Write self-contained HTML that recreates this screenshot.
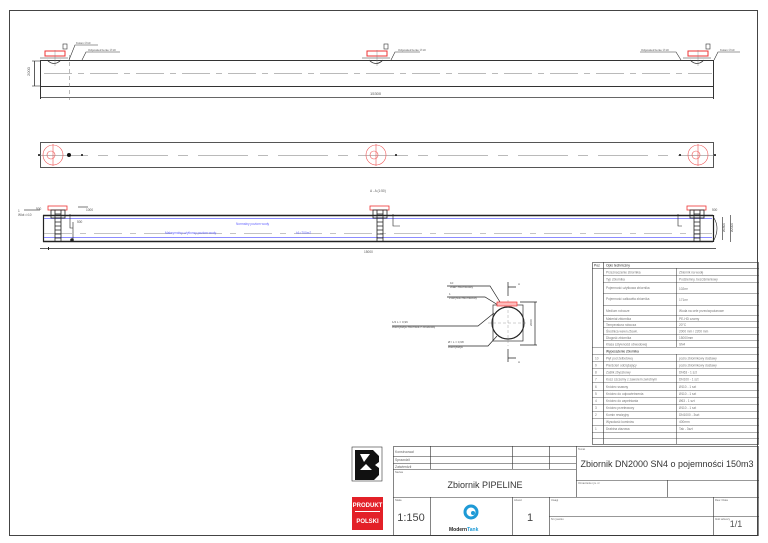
<!DOCTYPE html>
<html><head><meta charset="utf-8"><style>
html,body{margin:0;padding:0;background:#fff}
svg{display:block}
text{font-family:"Liberation Sans",sans-serif}
</style></head><body>
<svg width="768" height="543" viewBox="0 0 768 543" xmlns="http://www.w3.org/2000/svg">
<rect x="0" y="0" width="768" height="543" fill="#fff"/>
<!-- frame -->
<rect x="9.5" y="10.5" width="748" height="525" fill="none" stroke="#444" stroke-width="1"/>

<!-- TOP VIEW -->
<g stroke="#333" fill="none">
<rect x="40.5" y="60.5" width="673" height="26" stroke-width="1"/>
<line x1="40" y1="97.5" x2="714" y2="97.5" stroke-width="0.8"/>
<line x1="40.5" y1="87" x2="40.5" y2="99"/>
<line x1="713.5" y1="87" x2="713.5" y2="99"/>
<line x1="34.5" y1="61" x2="34.5" y2="86" stroke-width="0.8"/>
<line x1="32" y1="61" x2="40" y2="61" stroke-width="0.6"/>
<line x1="32" y1="86" x2="40" y2="86" stroke-width="0.6"/>
<line x1="44" y1="73.5" x2="712" y2="73.5" stroke="#777" stroke-width="0.6" stroke-dasharray="28,6,6,6"/>
<line x1="69.5" y1="55" x2="69.5" y2="100" stroke="#777" stroke-width="0.5" stroke-dasharray="4,3"/>
</g>
<g font-size="4" fill="#555">
<text x="30" y="76" transform="rotate(-90 30 76)">2000</text>
<text x="370" y="95">15300</text>
</g>
<!-- top nozzles -->
<g id="tn">
<path d="M47 60 Q54 67 61 60" stroke="#333" fill="none" stroke-width="0.8"/>
<rect x="45" y="51" width="20" height="5" fill="none" stroke="#e33" stroke-width="1"/>
<line x1="40" y1="58" x2="68" y2="58" stroke="#333" stroke-width="0.6"/>
<line x1="55" y1="50" x2="55" y2="66" stroke="#777" stroke-width="0.4"/>
</g>
<use href="#tn" x="322"/>
<use href="#tn" x="643"/>
<g stroke="#333" stroke-width="0.6" fill="none">
<path d="M69 60 L75 45 L98 45"/><path d="M82 60 L86 52 L120 52"/>
<path d="M391 60 L395 52 L420 52"/>
<path d="M681 60 L676 52 L640 52"/><path d="M714 60 L718 52 L740 52"/>
<rect x="63" y="44" width="4" height="5"/><rect x="384" y="44" width="4" height="5"/><rect x="706" y="44" width="4" height="5"/>
</g>
<g font-size="3" fill="#555">
<text x="76" y="44">Kolan ∅10</text><text x="88" y="51">Odpowietrzenie ∅10</text>
<text x="398" y="51">Odpowietrzenie ∅10</text>
<text x="641" y="51">Odpowietrzenie ∅10</text><text x="720" y="51">Kolan ∅10</text>
</g>

<!-- PLAN VIEW -->
<g fill="none">
<rect x="40.5" y="142.5" width="673" height="25" stroke="#555" stroke-width="1"/>
<line x1="38" y1="155.5" x2="716" y2="155.5" stroke="#777" stroke-width="0.6" stroke-dasharray="50,10,10,10"/>
<g stroke="#e55" stroke-width="0.6">
<circle cx="53" cy="155" r="10"/><circle cx="51" cy="155" r="4"/>
<circle cx="376" cy="155" r="10"/><circle cx="374" cy="155" r="4"/>
<circle cx="698" cy="155" r="10"/><circle cx="696" cy="155" r="4"/>
<line x1="53" y1="144" x2="53" y2="166"/><line x1="376" y1="144" x2="376" y2="166"/><line x1="698" y1="144" x2="698" y2="166"/>
</g>
</g>
<g fill="#111"><circle cx="69" cy="155" r="2"/><circle cx="82" cy="155" r="1"/><circle cx="39" cy="155" r="1"/><circle cx="396" cy="155" r="1"/><circle cx="680" cy="155" r="1"/><circle cx="715" cy="155" r="1"/></g>

<!-- SECTION VIEW -->
<g fill="none" stroke="#222">
<line x1="43" y1="215.5" x2="713" y2="215.5" stroke-width="1.4"/>
<line x1="43" y1="241.5" x2="713" y2="241.5" stroke-width="1.4"/>
<line x1="43.5" y1="215" x2="43.5" y2="242" stroke-width="1.2"/>
<line x1="713.5" y1="215" x2="713.5" y2="242" stroke-width="1.2"/>
<line x1="40" y1="248.5" x2="716" y2="248.5" stroke-width="0.7"/>
<line x1="44" y1="233.5" x2="712" y2="233.5" stroke="#888" stroke-width="0.6" stroke-dasharray="28,8,6,8"/>
</g>
<line x1="44" y1="218.5" x2="712" y2="218.5" stroke="#66f" stroke-width="0.8"/>
<line x1="44" y1="237.5" x2="712" y2="237.5" stroke="#66f" stroke-width="0.8"/>
<g id="lad" stroke="#222" fill="none" stroke-width="0.8">
<line x1="55" y1="210" x2="55" y2="242"/><line x1="61" y1="210" x2="61" y2="242"/>
<path d="M55 214H61M55 218H61M55 222H61M55 226H61M55 230H61M55 234H61M55 238H61"/>
<rect x="48" y="206" width="19" height="4" stroke="#e33"/>
<rect x="51" y="210" width="14" height="8"/>
</g>
<use href="#lad" x="322"/>
<use href="#lad" x="639"/>
<g stroke="#222" fill="none" stroke-width="0.6">
<path d="M70 214V228H73"/><path d="M73 222V241"/><circle cx="72" cy="240" r="1.5" fill="#222"/>
<path d="M78 207H88"/><path d="M24 210H40"/>
<path d="M393 214V226H400"/><path d="M678 214V226H682"/>
<path d="M714 218Q720 228 714 240"/>
<line x1="730.5" y1="215" x2="730.5" y2="242"/><line x1="722.5" y1="217" x2="722.5" y2="240"/>
</g>
<g fill="#222"><path d="M48 250h1v-3h-1z"/></g>
<g font-size="3.2" fill="#555">
<text x="370" y="192">A - A (1:50)</text>
<text x="18" y="212">1</text><text x="18" y="216">Wlot ∅10</text>
<text x="36" y="210">500</text><text x="86" y="211">1000</text>
<text x="77" y="223">500</text>
<text x="364" y="253">15000</text>
<text x="712" y="211">500</text>
<text x="733" y="232" transform="rotate(-90 733 232)">ø2000</text>
<text x="725" y="232" transform="rotate(-90 725 232)">ø1800</text>
</g>
<g font-size="3.2" fill="#66f">
<text x="236" y="225">Normalny poziom wody</text>
<text x="165" y="234">Maksymalny użytkowy poziom wody</text>
<text x="296" y="234">h1=700m7</text>
</g>

<!-- detail cross-section -->
<g fill="none" stroke="#222" stroke-width="0.7">
<circle cx="508" cy="323" r="16" stroke-width="1.2"/>
<rect x="493" y="305" width="30" height="36" stroke="#333"/>
<line x1="508" y1="300" x2="508" y2="346" stroke="#888" stroke-width="0.4" stroke-dasharray="3,2"/>
<line x1="488" y1="323" x2="528" y2="323" stroke="#888" stroke-width="0.4" stroke-dasharray="3,2"/>
<path d="M508 282V296M508 349V362M508 287H516M508 358H516"/>
<path d="M520 302H537M520 345H537M535 302V345"/>
<path d="M447 286H490L500 302M447 297H485L498 305M392 326H478L494 313M448 346H488L497 336"/>
</g>
<rect x="497" y="302" width="20" height="4" fill="#fbb" stroke="#e33" stroke-width="0.7"/>
<g font-size="3" fill="#555">
<text x="450" y="284">10</text><text x="450" y="288">Właz zbiornikowy</text>
<text x="449" y="295">1</text><text x="449" y="299">Pokrywa zbiornikowy</text>
<text x="392" y="323">1/2 L = 0,96</text><text x="392" y="328">Wentylacja zbiornika z obudową</text>
<text x="448" y="343">Ø / L = 0,98</text><text x="448" y="348">Wentylacja</text>
<text x="518" y="285">A</text><text x="518" y="363">A</text>
<text x="532" y="326" transform="rotate(-90 532 326)">2000</text>
</g>

<!-- TABLE -->
<g stroke="#333" stroke-width="0.6" fill="none">
<rect x="592.5" y="262.5" width="166" height="182"/>
<line x1="603.5" y1="262" x2="603.5" y2="444"/>
</g>
<g font-size="3.4" fill="#666">
<text x="594" y="266.5" fill="#222">Poz</text><text x="606" y="266.5" fill="#222">Opis techniczny</text>
</g>
<g id="rows" stroke="#333" stroke-width="0.5">
<line x1="592" y1="268.5" x2="759" y2="268.5"/>
<line x1="676.5" y1="268" x2="676.5" y2="347"/>
<line x1="676.5" y1="354" x2="676.5" y2="444"/>
</g>
<g stroke="#333" stroke-width="0.4">
<line x1="603" y1="275.5" x2="759" y2="275.5"/>
<line x1="603" y1="282.5" x2="759" y2="282.5"/>
<line x1="603" y1="293.5" x2="759" y2="293.5"/>
<line x1="603" y1="305.5" x2="759" y2="305.5"/>
<line x1="603" y1="315.5" x2="759" y2="315.5"/>
<line x1="603" y1="321.5" x2="759" y2="321.5"/>
<line x1="603" y1="327.5" x2="759" y2="327.5"/>
<line x1="603" y1="334.5" x2="759" y2="334.5"/>
<line x1="603" y1="340.5" x2="759" y2="340.5"/>
<line x1="592" y1="347.5" x2="759" y2="347.5"/>
<line x1="592" y1="354.5" x2="759" y2="354.5"/>
<line x1="592" y1="361.5" x2="759" y2="361.5"/>
<line x1="592" y1="368.5" x2="759" y2="368.5"/>
<line x1="592" y1="375.5" x2="759" y2="375.5"/>
<line x1="592" y1="382.5" x2="759" y2="382.5"/>
<line x1="592" y1="390.5" x2="759" y2="390.5"/>
<line x1="592" y1="397.5" x2="759" y2="397.5"/>
<line x1="592" y1="404.5" x2="759" y2="404.5"/>
<line x1="592" y1="411.5" x2="759" y2="411.5"/>
<line x1="592" y1="418.5" x2="759" y2="418.5"/>
<line x1="592" y1="425.5" x2="759" y2="425.5"/>
<line x1="592" y1="432.5" x2="759" y2="432.5"/>
<line x1="592" y1="438.5" x2="759" y2="438.5"/>
</g>
<g font-size="3.2" fill="#777">
<text x="606" y="273.5">Przeznaczenie zbiornika</text><text x="679" y="273.5">Zbiornik na wodę</text>
<text x="606" y="280.5">Typ zbiornika</text><text x="679" y="280.5">Podziemny, bezciśnieniowy</text>
<text x="606" y="289">Pojemność użytkowa zbiornika</text><text x="679" y="290">102m³</text>
<text x="606" y="300">Pojemność całkowita zbiornika</text><text x="679" y="301">171m³</text>
<text x="606" y="312">Medium robocze</text><text x="679" y="312">Woda na cele przeciwpożarowe</text>
<text x="606" y="320">Materiał zbiornika</text><text x="679" y="320">PE-HD czarny</text>
<text x="606" y="326">Temperatura robocza</text><text x="679" y="326">20°C</text>
<text x="606" y="332.5">Średnica wewn./Zewn.</text><text x="679" y="332.5">2000 mm / 2200 mm</text>
<text x="606" y="339">Długość zbiornika</text><text x="679" y="339">15000mm</text>
<text x="606" y="345.5">Klasa sztywności obwodowej</text><text x="679" y="345.5">SN4</text>
<text x="606" y="352.5" fill="#222">Wyposażenie zbiornika</text>
<text x="595" y="359.5">10</text><text x="606" y="359.5">Płyt pod żelbetową</text><text x="679" y="359.5">pozio zbiornikowy dostawy</text>
<text x="595" y="366.5">9</text><text x="606" y="366.5">Pierścień odciążający</text><text x="679" y="366.5">pozio zbiornikowy dostawy</text>
<text x="595" y="373.5">8</text><text x="606" y="373.5">Zaślik zbyszkowy</text><text x="679" y="373.5">DN63 - 1 szt</text>
<text x="595" y="380.5">7</text><text x="606" y="380.5">Kosz szczelny z zaworem zwrotnym</text><text x="679" y="380.5">DN100 - 1 szt</text>
<text x="595" y="388">6</text><text x="606" y="388">Króciec ssawny</text><text x="679" y="388">Ø110 - 1 szt</text>
<text x="595" y="395">5</text><text x="606" y="395">Króciec do odpowietrzenia</text><text x="679" y="395">Ø110 - 1 szt</text>
<text x="595" y="402">4</text><text x="606" y="402">Króciec do zapełniania</text><text x="679" y="402">Ø63 - 1 szt</text>
<text x="595" y="409">3</text><text x="606" y="409">Króciec przelewowy</text><text x="679" y="409">Ø110 - 1 szt</text>
<text x="595" y="416">2</text><text x="606" y="416">Komin rewizyjny</text><text x="679" y="416">DN1000 - 3szt</text>
<text x="606" y="423">Wysokość kominów</text><text x="679" y="423">400mm</text>
<text x="595" y="430">1</text><text x="606" y="430">Drabina złazowa</text><text x="679" y="430">Tak - 3szt</text>
</g>

<!-- TITLE BLOCK -->
<g stroke="#333" stroke-width="0.6" fill="none">
<rect x="393.5" y="446.5" width="365" height="89"/>
<line x1="393" y1="456.5" x2="576" y2="456.5"/>
<line x1="393" y1="463.5" x2="576" y2="463.5"/>
<line x1="393" y1="469.5" x2="576" y2="469.5"/>
<line x1="393" y1="497.5" x2="759" y2="497.5"/>
<line x1="576" y1="480.5" x2="759" y2="480.5"/>
<line x1="430.5" y1="446" x2="430.5" y2="469"/>
<line x1="512.5" y1="446" x2="512.5" y2="469"/>
<line x1="549.5" y1="446" x2="549.5" y2="469"/>
<line x1="576.5" y1="446" x2="576.5" y2="497"/>
<line x1="667.5" y1="480" x2="667.5" y2="497"/>
<line x1="430.5" y1="497" x2="430.5" y2="535"/>
<line x1="512.5" y1="497" x2="512.5" y2="535"/>
<line x1="549.5" y1="497" x2="549.5" y2="535"/>
<line x1="713.5" y1="497" x2="713.5" y2="535"/>
<line x1="549" y1="516.5" x2="759" y2="516.5"/>
</g>
<g font-size="3.4" fill="#666">
<text x="395" y="453">Konstruował</text><text x="395" y="461">Sprawdził</text><text x="395" y="468">Zatwierdził</text>
<text x="395" y="473" font-size="2.6">Nazwa</text>
<text x="578" y="450" font-size="2.6">Temat</text>
<text x="578" y="484" font-size="2.6">Oznaczenie rys. nr</text>
<text x="395" y="501" font-size="2.6">Skala</text><text x="514" y="501" font-size="2.6">Arkusz</text>
<text x="551" y="501" font-size="2.6">Uwagi</text><text x="551" y="520" font-size="2.6">Nr rysunku</text>
<text x="715" y="501" font-size="2.6">Rew / Data</text><text x="715" y="520" font-size="2.6">Ilość arkuszy</text>
</g>
<text x="667" y="467" font-size="9" fill="#333" text-anchor="middle">Zbiornik DN2000 SN4 o pojemności 150m3</text>
<text x="485" y="488" font-size="9" fill="#333" text-anchor="middle">Zbiornik PIPELINE</text>
<text x="411" y="521" font-size="11" fill="#444" text-anchor="middle">1:150</text>
<text x="530" y="521" font-size="11" fill="#444" text-anchor="middle">1</text>
<text x="736" y="527" font-size="9" fill="#555" text-anchor="middle">1/1</text>
<!-- ModernTank logo -->
<circle cx="471" cy="512" r="6" fill="none" stroke="#1e9ad6" stroke-width="3"/>
<circle cx="473" cy="513" r="2" fill="#1e9ad6"/>
<text x="449" y="531" font-size="5" font-weight="bold" fill="#222">Modern<tspan fill="#1e9ad6">Tank</tspan></text>
<!-- BB logo -->
<g>
<rect x="352" y="447" width="30" height="34" fill="#fff" stroke="#333" stroke-width="0.6"/>
<path d="M355 450h18l6 6v6l-4 3 4 3v7l-5 5h-19z" fill="#111"/>
<path d="M360 454h10l-6 8zM360 470h12l-6-6z" fill="#fff"/>
</g>
<!-- Produkt Polski -->
<rect x="352" y="497" width="31" height="33" fill="#e32028"/>
<rect x="355" y="511" width="25" height="1" fill="#fff"/>
<text x="367.5" y="507" font-size="6" font-weight="bold" fill="#fff" text-anchor="middle">PRODUKT</text>
<text x="367.5" y="523" font-size="6" font-weight="bold" fill="#fff" text-anchor="middle">POLSKI</text>
</svg>
</body></html>
